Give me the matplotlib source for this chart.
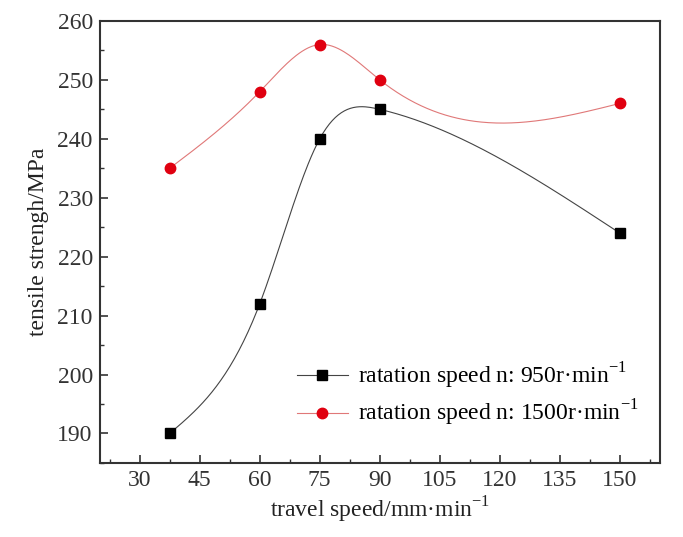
import numpy as np
import matplotlib
matplotlib.use("Agg")
import matplotlib.pyplot as plt
from matplotlib.ticker import MultipleLocator

plt.rcParams['font.family'] = ['Liberation Serif', 'DejaVu Serif']
plt.rcParams['mathtext.fontset'] = 'custom'
plt.rcParams['mathtext.rm'] = 'Liberation Serif'

travel = [37.5, 60, 75, 90, 150]
ts_950 = [190, 212, 240, 245, 224]
ts_1500 = [235, 248, 256, 250, 246]

x_ticks = [30, 45, 60, 75, 90, 105, 120, 135, 150]
y_ticks = [190, 200, 210, 220, 230, 240, 250, 260]


def spline(x, y, n=300):
    # natural cubic spline through the points
    x = np.asarray(x, float)
    y = np.asarray(y, float)
    k = len(x)
    h = np.diff(x)
    A = np.zeros((k, k))
    b = np.zeros(k)
    A[0, 0] = 1
    A[-1, -1] = 1
    for i in range(1, k - 1):
        A[i, i - 1] = h[i - 1]
        A[i, i] = 2 * (h[i - 1] + h[i])
        A[i, i + 1] = h[i]
        b[i] = 6 * ((y[i + 1] - y[i]) / h[i] - (y[i] - y[i - 1]) / h[i - 1])
    m = np.linalg.solve(A, b)
    xs = np.linspace(x[0], x[-1], n)
    idx = np.clip(np.searchsorted(x, xs) - 1, 0, k - 2)
    x0, x1 = x[idx], x[idx + 1]
    hh = x1 - x0
    t0 = x1 - xs
    t1 = xs - x0
    ys = (m[idx] * t0**3 / (6 * hh) + m[idx + 1] * t1**3 / (6 * hh)
          + (y[idx] / hh - m[idx] * hh / 6) * t0
          + (y[idx + 1] / hh - m[idx + 1] * hh / 6) * t1)
    return xs, ys


fig = plt.figure(figsize=(6.83, 5.37), dpi=100)
ax = fig.add_axes([0.146, 0.138, 0.82, 0.823])

xs, ys = spline(travel, ts_950)
ax.plot(xs, ys, color='#444444', lw=0.8)
xs, ys = spline(travel, ts_1500)
ax.plot(xs, ys, color='#e07878', lw=0.8)

ax.plot(travel, ts_950, 's', color='black', ms=6.5)
ax.plot(travel, ts_1500, 'o', color='#e00010', ms=7.5)

# legend handles
h1, = ax.plot([], [], '-s', color='#444444', mfc='black', mec='black', ms=6.5, lw=0.8)
h2, = ax.plot([], [], '-o', color='#e07878', mfc='#e00010', mec='#e00010', ms=7.5, lw=0.8)
ax.legend([h1, h2], ['ratation speed n: 950r·min$^{\\mathrm{-1}}$', 'ratation speed n: 1500r·min$^{\\mathrm{-1}}$'],
          loc='lower right', bbox_to_anchor=(1.0, 0.03), frameon=False, fontsize=17,
          handlelength=2.2, handletextpad=0.4, labelspacing=0.3)

ax.set_xlim(20, 160)
ax.set_ylim(185, 260)
ax.set_xticks(x_ticks)
ax.set_yticks(y_ticks)
ax.xaxis.set_minor_locator(MultipleLocator(7.5))
ax.yaxis.set_minor_locator(MultipleLocator(5))
ax.tick_params(which='both', direction='in', top=False, right=False, labelsize=17, colors='#333333')
ax.tick_params(which='major', length=6, width=1.2, pad=5)
ax.tick_params(which='minor', length=3, width=1)
for s in ax.spines.values():
    s.set_linewidth(1.5)
    s.set_color('#333333')

ax.set_xlabel('travel speed/mm·min$^{\\mathrm{-1}}$', fontsize=17, color='#222222', labelpad=3)
ax.set_ylabel('tensile strengh/MPa', fontsize=17, color='#222222', labelpad=6)

plt.savefig('out.png', dpi=100)
